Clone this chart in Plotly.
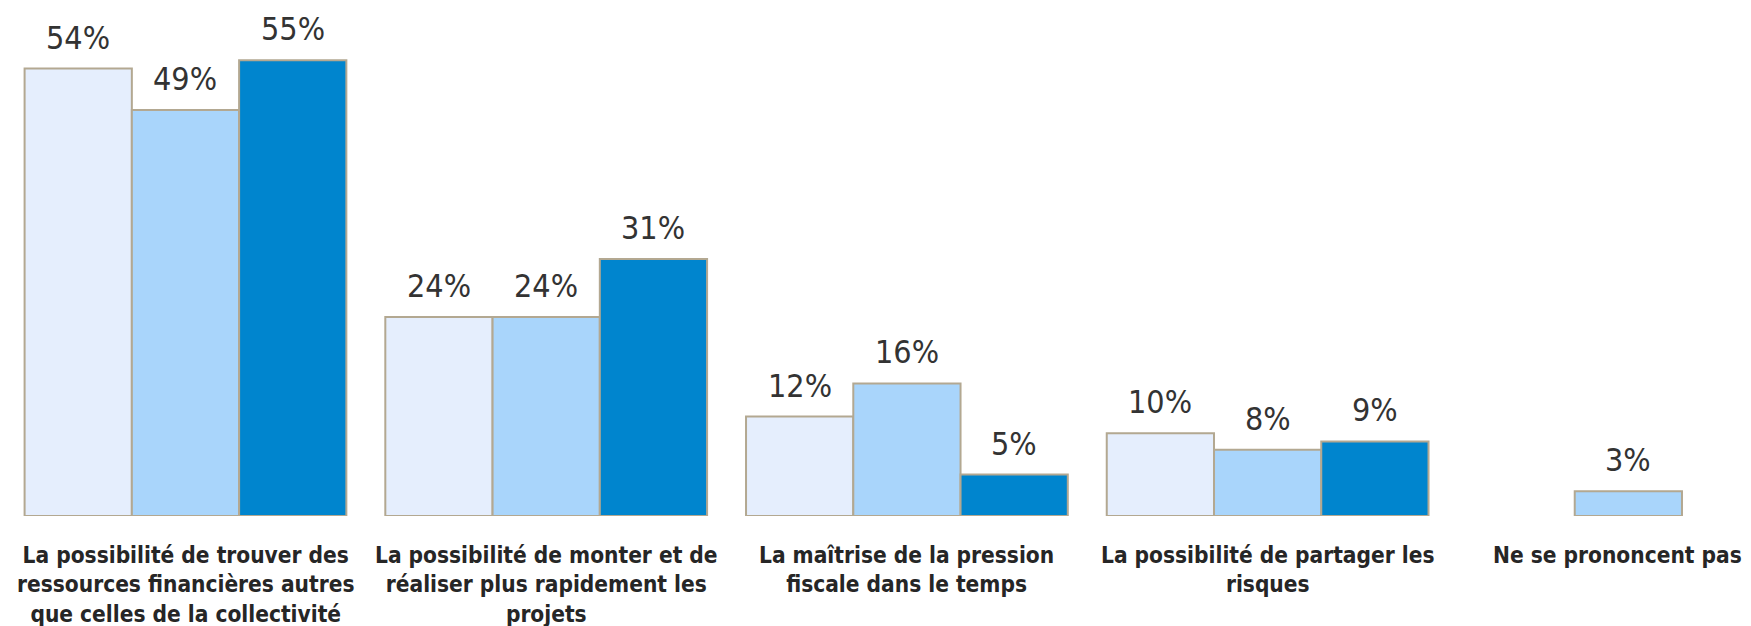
import plotly.graph_objects as go

categories = [
    "La possibilité de trouver des<br>ressources financières autres<br>que celles de la collectivité",
    "La possibilité de monter et de<br>réaliser plus rapidement les<br>projets",
    "La maîtrise de la pression<br>fiscale dans le temps",
    "La possibilité de partager les<br>risques",
    "Ne se prononcent pas",
]
serie_1 = [54, 24, 12, 10, None]
serie_2 = [49, 24, 16, 8, 3]
serie_3 = [55, 31, 5, 9, None]
series = [("Série 1", serie_1), ("Série 2", serie_2), ("Série 3", serie_3)]
colors = ["#E5EEFD", "#A9D5FB", "#0085CE"]

BARGAP = 0.108
bar_w = (1 - BARGAP) / len(series)
xs = list(range(len(categories)))

fig = go.Figure()
for (name, vals), col in zip(series, colors):
    fig.add_trace(go.Bar(
        x=xs, y=vals, name=name,
        marker=dict(color=col, line=dict(color="#B3A891", width=2)),
        hoverinfo="skip",
    ))

annotations = []
val_font = dict(family="Liberation Sans Narrow, DejaVu Sans Condensed, sans-serif", size=32, color="#333333")
for k, (name, vals) in enumerate(series):
    off = (k - (len(series) - 1) / 2) * bar_w
    for i, v in enumerate(vals):
        if v is None:
            continue
        annotations.append(dict(
            x=i + off, y=v, xref="x", yref="y", text=f"{v}%",
            showarrow=False, yanchor="bottom", yshift=10, font=val_font,
        ))

lab_font = dict(family="DejaVu Sans Condensed, DejaVu Sans, sans-serif", size=22.5, color="#262626", weight="bold")
for i, c in enumerate(categories):
    if i == len(categories) - 1:
        annotations.append(dict(x=1, xref="paper", xanchor="right", xshift=-7, y=0, yref="y",
                                yanchor="top", yshift=-24, text=c, showarrow=False, font=lab_font))
    else:
        annotations.append(dict(x=i, xref="x", y=0, yref="y", yanchor="top", yshift=-24,
                                text=c, showarrow=False, font=lab_font))

fig.update_layout(
    width=1743, height=618,
    margin=dict(l=0, r=0, t=0, b=110),
    barmode="group", bargap=BARGAP, bargroupgap=0,
    plot_bgcolor="white", paper_bgcolor="white",
    showlegend=False,
    xaxis=dict(range=[-0.492, 4.340], visible=False),
    yaxis=dict(range=[0, 61.3], visible=False),
    annotations=annotations,
)
fig.write_html("out.html")
